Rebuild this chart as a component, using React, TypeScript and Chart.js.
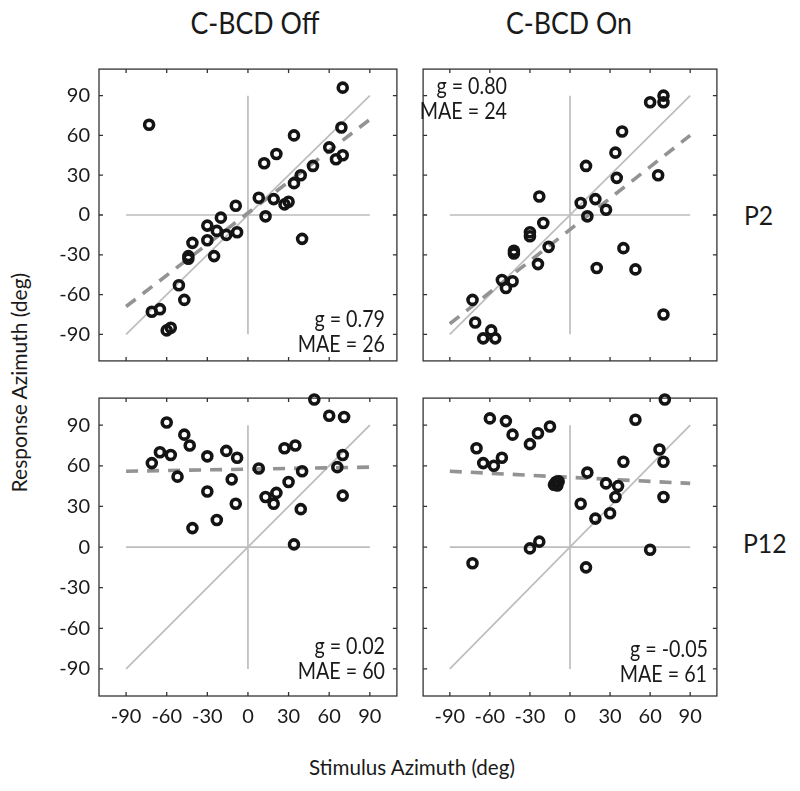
import React, { useEffect, useRef } from "react";
import { Chart, registerables } from "chart.js";
Chart.register(...registerables);

// ---------- data ----------
const tickValues = [-90, -60, -30, 0, 30, 60, 90];
const tickLabels = ["-90", "-60", "-30", "0", "30", "60", "90"];
const columnTitles = ["C-BCD Off", "C-BCD On"];
const rowLabels = ["P2", "P12"];
const xAxisTitle = "Stimulus Azimuth (deg)";
const yAxisTitle = "Response Azimuth (deg)";

const p2OffX = [-73, 70, 69, 34, 21, 12, 60, 65, 70, 48, 39, 34, 8, 19, 27, 30, 13, 40, -9, -20, -30, -23, -16, -8, -30, -41, -44, -44, -25, -51, -47, -71, -65, -60, -57];
const p2OffY = [68, 96, 66, 60, 46, 39, 51, 42, 45, 37, 30, 24, 13, 12, 8, 10, -1, -18, 7, -2, -8, -12, -15, -13, -19, -21, -31, -33, -31, -53, -64, -73, -71, -87, -85];
const p2OffFit = [-69, 72];

const p2OnX = [60, 70, 70, 39, 34, 12, 35, 66, -23, 8, 19, 27, 13, -20, -30, -30, -42, -42, -16, -24, 40, 20, 49, -51, -48, -43, 70, -73, -71, -59, -65, -56];
const p2OnY = [85, 90, 85, 63, 47, 37, 28, 30, 14, 9, 12, 4, -1, -6, -13, -16, -27, -29, -24, -37, -25, -40, -41, -49, -55, -50, -75, -64, -81, -87, -93, -93];
const p2OnFit = [-82, 60];

const p12OffX = [49, 60, 71, -60, -47, -43, -65, -57, -71, -52, -30, -16, -8, -12, -30, -9, -23, -41, 8, 27, 35, 70, 66, 40, 30, 13, 21, 19, 39, 70, 34];
const p12OffY = [109, 97, 96, 92, 83, 75, 70, 68, 62, 52, 67, 71, 66, 50, 41, 32, 20, 14, 58, 73, 75, 68, 59, 56, 48, 37, 40, 32, 28, 38, 2];
const p12OffFit = [56, 59];

const p12OnX = [71, 49, -60, -48, -43, -24, -15, -30, -70, -65, -57, -51, 67, 70, 40, 13, 27, 36, 34, 70, 8, 19, 30, -30, -23, 60, -73, 12, -12, -8.5, -10.5, -9.5];
const p12OnY = [109, 94, 95, 93, 83, 84, 89, 76, 73, 62, 60, 66, 72, 63, 63, 55, 47, 45, 37, 37, 32, 21, 25, -1, 4, -2, -12, -15, 46, 48.5, 48, 45.5];
const p12OnFit = [56, 47];

const gains = ["0.79", "0.80", "0.02", "-0.05"];
const maes = ["26", "24", "60", "61"];

const fitX = [-90, 90];
const identityX = [-90, 90];
const identityY = [-90, 90];
const crossH = [{ x: -90, y: 0 }, { x: 90, y: 0 }];
const crossV = [{ x: 0, y: -90 }, { x: 0, y: 90 }];

// ---------- styles ----------
const FONT = "Lato, 'Open Sans', sans-serif";
const INK = "#1a1a1a";

const framePlugin = {
  id: "frame",
  beforeDatasetsDraw(chart: any) {
    const { ctx, chartArea: a, scales } = chart;
    ctx.save();
    ctx.strokeStyle = "#333333";
    ctx.lineWidth = 1.3;
    ctx.strokeRect(a.left, a.top, a.right - a.left, a.bottom - a.top);
    const len = 4;
    ctx.beginPath();
    for (const v of tickValues) {
      const px = scales.x.getPixelForValue(v);
      ctx.moveTo(px, a.bottom);
      ctx.lineTo(px, a.bottom - len);
      ctx.moveTo(px, a.top);
      ctx.lineTo(px, a.top + len);
      const py = scales.y.getPixelForValue(v);
      ctx.moveTo(a.left, py);
      ctx.lineTo(a.left + len, py);
      ctx.moveTo(a.right, py);
      ctx.lineTo(a.right - len, py);
    }
    ctx.stroke();
    ctx.restore();
  },
};

type Box = { left: number; top: number; width: number; height: number };

function zeroPad(s: any) {
  s.paddingTop = 0;
  s.paddingBottom = 0;
  s.paddingLeft = 0;
  s.paddingRight = 0;
}

function Panel(props: { xs: number[]; ys: number[]; fit: number[]; box: Box; showY: boolean; showX: boolean }) {
  const ref = useRef<HTMLCanvasElement>(null);
  const padL = 3, padR = 4, padT = 4, padB = 2;
  const yW = props.showY ? 40 : 0;
  const xH = props.showX ? 34 : 0;
  const cw = padL + yW + props.box.width + padR;
  const chh = padT + props.box.height + xH + padB;
  useEffect(() => {
    const pts = props.xs.map((x, i) => ({ x, y: props.ys[i] }));
    const fitPts = fitX.map((x, i) => ({ x, y: props.fit[i] }));
    const idPts = identityX.map((x, i) => ({ x, y: identityY[i] }));
    const chart = new Chart(ref.current as HTMLCanvasElement, {
      type: "scatter",
      data: {
        datasets: [
          {
            label: "responses",
            data: pts,
            pointRadius: 4.5,
            pointBorderWidth: 3.6,
            pointBorderColor: "#141414",
            pointBackgroundColor: "rgba(0,0,0,0)",
            showLine: false,
            clip: false,
          } as any,
          {
            label: "fit",
            data: fitPts,
            showLine: true,
            borderColor: "#939393",
            borderWidth: 3.6,
            borderDash: [12, 9],
            pointRadius: 0,
          },
          { label: "identity", data: idPts, showLine: true, borderColor: "#bdbdbd", borderWidth: 1.7, pointRadius: 0 },
          { label: "h", data: crossH, showLine: true, borderColor: "#bdbdbd", borderWidth: 1.7, pointRadius: 0 },
          { label: "v", data: crossV, showLine: true, borderColor: "#bdbdbd", borderWidth: 1.7, pointRadius: 0 },
        ],
      },
      options: {
        animation: false,
        responsive: false,
        events: [],
        layout: { padding: { left: padL, right: padR, top: padT, bottom: padB } },
        plugins: { legend: { display: false }, tooltip: { enabled: false } },
        scales: {
          x: {
            type: "linear",
            min: -110,
            max: 110,
            grid: { display: false, drawTicks: false },
            border: { display: false },
            afterBuildTicks: (s: any) => {
              s.ticks = tickValues.map((v) => ({ value: v }));
            },
            afterFit: (s: any) => {
              s.height = xH;
              zeroPad(s);
            },
            ticks: {
              display: props.showX,
              padding: 9,
              color: INK,
              font: { family: FONT, size: 20 },
              maxRotation: 0,
              autoSkip: false,
              callback: (_v: any, i: number) => tickLabels[i],
            },
          },
          y: {
            type: "linear",
            min: -110,
            max: 110,
            grid: { display: false, drawTicks: false },
            border: { display: false },
            afterBuildTicks: (s: any) => {
              s.ticks = tickValues.map((v) => ({ value: v }));
            },
            afterFit: (s: any) => {
              s.width = yW;
              zeroPad(s);
            },
            ticks: {
              display: props.showY,
              padding: 9,
              color: INK,
              font: { family: FONT, size: 20 },
              autoSkip: false,
              callback: (_v: any, i: number) => tickLabels[i],
            },
          },
        },
      } as any,
      plugins: [framePlugin],
    });
    return () => chart.destroy();
  }, []);
  return (
    <canvas
      ref={ref}
      width={cw}
      height={chh}
      style={{
        position: "absolute",
        left: props.box.left - padL - yW,
        top: props.box.top - padT,
        width: cw,
        height: chh,
      }}
    />
  );
}

function Txt(props: { x: number; baseline: number; size: number; align: "left" | "right" | "center"; sx?: number; children: any }) {
  const W = 400;
  const lh = props.size * 1.2;
  const top = props.baseline - 0.987 * props.size;
  const left = props.align === "left" ? props.x : props.align === "right" ? props.x - W : props.x - W / 2;
  return (
    <div
      style={{
        position: "absolute",
        left,
        top,
        width: W,
        height: lh,
        lineHeight: lh + "px",
        fontFamily: FONT,
        fontSize: props.size,
        color: INK,
        textAlign: props.align,
        whiteSpace: "nowrap",
        transform: `scaleX(${props.sx ?? 1})`,
        transformOrigin: props.align,
      }}
    >
      {props.children}
    </div>
  );
}

export default function App() {
  const boxTL = { left: 99, top: 65, width: 302, height: 302 };
  const boxTR = { left: 418, top: 65, width: 303, height: 302 };
  const boxBL = { left: 99, top: 394, width: 302, height: 302 };
  const boxBR = { left: 418, top: 394, width: 303, height: 302 };
  const ySize = 21;
  return (
    <div style={{ position: "absolute", left: 0, top: 0, width: 800, height: 791, background: "#fff", overflow: "hidden" }}>
      <Panel xs={p2OffX} ys={p2OffY} fit={p2OffFit} box={boxTL} showY={true} showX={false} />
      <Panel xs={p2OnX} ys={p2OnY} fit={p2OnFit} box={boxTR} showY={false} showX={false} />
      <Panel xs={p12OffX} ys={p12OffY} fit={p12OffFit} box={boxBL} showY={true} showX={true} />
      <Panel xs={p12OnX} ys={p12OnY} fit={p12OnFit} box={boxBR} showY={false} showX={true} />

      <Txt x={254.5} baseline={33.3} size={30} align="center" sx={0.89}>{columnTitles[0]}</Txt>
      <Txt x={569} baseline={33.3} size={30} align="center" sx={0.89}>{columnTitles[1]}</Txt>

      <Txt x={744} baseline={225} size={27.5} align="left" sx={0.9}>{rowLabels[0]}</Txt>
      <Txt x={743} baseline={553} size={27.5} align="left" sx={0.9}>{rowLabels[1]}</Txt>

      <Txt x={385} baseline={327.3} size={24} align="right" sx={0.82}>{"g = " + gains[0]}</Txt>
      <Txt x={385} baseline={352.5} size={24} align="right" sx={0.82}>{"MAE = " + maes[0]}</Txt>
      <Txt x={506.5} baseline={95} size={24} align="right" sx={0.82}>{"g = " + gains[1]}</Txt>
      <Txt x={506.5} baseline={120} size={24} align="right" sx={0.82}>{"MAE = " + maes[1]}</Txt>
      <Txt x={385} baseline={655} size={24} align="right" sx={0.82}>{"g = " + gains[2]}</Txt>
      <Txt x={385} baseline={680} size={24} align="right" sx={0.82}>{"MAE = " + maes[2]}</Txt>
      <Txt x={707.5} baseline={658} size={24} align="right" sx={0.82}>{"g = " + gains[3]}</Txt>
      <Txt x={707} baseline={683} size={24} align="right" sx={0.82}>{"MAE = " + maes[3]}</Txt>

      <Txt x={412} baseline={775} size={21} align="center" sx={0.98}>{xAxisTitle}</Txt>
      <div
        style={{
          position: "absolute",
          left: 18.6 - 200,
          top: 382.5 - ySize * 0.6,
          width: 400,
          height: ySize * 1.2,
          lineHeight: ySize * 1.2 + "px",
          fontFamily: FONT,
          fontSize: ySize,
          color: INK,
          textAlign: "center",
          whiteSpace: "nowrap",
          transform: "rotate(-90deg)",
          transformOrigin: "center",
        }}
      >
        {yAxisTitle}
      </div>
    </div>
  );
}
